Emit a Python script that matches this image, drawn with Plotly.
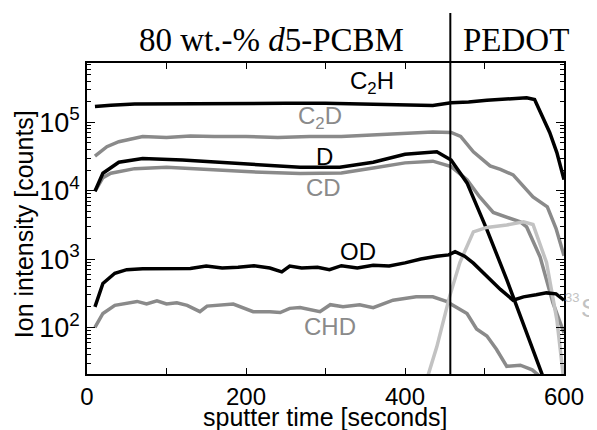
import plotly.graph_objects as go

# ---------------- data ----------------
t_c2h = [10, 30, 60, 100, 150, 200, 250, 300, 350, 400, 435, 458, 480, 503, 530, 553, 563, 572, 582, 591, 600]
v_c2h = [1.7e5, 1.78e5, 1.85e5, 1.87e5, 1.88e5, 1.89e5, 1.9e5, 1.9e5, 1.85e5, 1.8e5, 1.76e5, 1.93e5,
         1.98e5, 2.1e5, 2.18e5, 2.28e5, 2.15e5, 1.3e5, 7.1e4, 3.6e4, 1.45e4]

t_c2d = [10, 25, 40, 70, 100, 130, 160, 200, 240, 280, 320, 360, 400, 435, 458, 470, 486, 507, 520, 536, 561, 579, 590, 600]
v_c2d = [3.2e4, 4.4e4, 5.2e4, 6.2e4, 6.0e4, 6.3e4, 6.2e4, 6.2e4, 6.0e4, 6.2e4, 6.2e4, 6.5e4, 6.8e4, 7.2e4,
         7.1e4, 6.2e4, 3.7e4, 2.3e4, 2.05e4, 1.7e4, 8.1e3, 5.8e3, 2.8e3, 1.12e3]

t_d = [10, 20, 40, 70, 120, 200, 268, 318, 360, 400, 440, 458, 478, 503, 528, 553, 572, 580]
v_d = [9.8e3, 1.8e4, 2.6e4, 2.95e4, 2.8e4, 2.45e4, 2.2e4, 2.2e4, 2.6e4, 3.4e4, 3.7e4, 2.8e4, 1.3e4,
       2.7e3, 500, 83, 21, 12]

t_cd = [10, 20, 30, 60, 100, 150, 200, 268, 320, 360, 400, 435, 458, 478, 494, 511, 528, 545, 553, 570, 586, 600]
v_cd = [9.8e3, 1.55e4, 1.8e4, 2.1e4, 2.2e4, 2.05e4, 1.9e4, 1.78e4, 1.82e4, 2.15e4, 2.55e4, 2.7e4, 2.25e4,
        1.45e4, 8.1e3, 4.8e3, 4.1e3, 3.5e3, 2.95e3, 1.07e3, 230, 83]

t_od = [10, 20, 35, 50, 70, 90, 110, 130, 150, 170, 190, 210, 230, 245, 255, 270, 290, 305, 320, 340, 360,
        380, 400, 420, 440, 455, 463, 475, 486, 503, 520, 536, 549, 565, 578, 590, 600]
v_od = [200, 440, 620, 700, 720, 730, 720, 730, 790, 740, 760, 800, 740, 650, 790, 740, 760, 700, 800, 740,
        810, 790, 880, 1000, 1100, 1150, 1280, 1100, 870, 560, 360, 250, 280, 300, 320, 310, 250]

t_chd = [10, 20, 35, 50, 63, 75, 88, 100, 113, 126, 142, 151, 184, 209, 230, 243, 255, 268, 293, 306, 322,
         343, 360, 385, 414, 435, 452, 478, 490, 503, 515, 528, 545, 560, 575]
v_chd = [100, 160, 210, 225, 240, 220, 245, 220, 230, 210, 170, 205, 220, 170, 170, 165, 190, 195, 170, 215,
         200, 215, 195, 250, 280, 280, 240, 160, 95, 75, 48, 27, 28, 24, 17]

t_s33 = [425, 429, 440, 456, 469, 486, 503, 528, 549, 561, 578, 591, 599, 603]
v_s33 = [12, 20, 52, 280, 890, 2500, 2900, 3150, 3500, 3200, 890, 130, 20, 12]

x_ticks = [0, 100, 200, 300, 400, 500, 600]
x_ticktext = ["0", "", "200", "", "400", "", "600"]
y_ticks = [1e2, 1e3, 1e4, 1e5]
y_ticktext = ["10<sup>2</sup>", "10<sup>3</sup>", "10<sup>4</sup>", "10<sup>5</sup>"]
interface_time = 457

BLACK = "#000000"
GRAY = "#8a8a8a"
LIGHT = "#c2c2c2"

fig = go.Figure()
series = [
    (t_c2h, v_c2h, BLACK),
    (t_c2d, v_c2d, GRAY),
    (t_cd, v_cd, GRAY),
    (t_d, v_d, BLACK),
    (t_chd, v_chd, GRAY),
    (t_s33, v_s33, LIGHT),
    (t_od, v_od, BLACK),
]
for t, v, c in series:
    fig.add_trace(go.Scatter(x=t, y=v, mode="lines", line=dict(color=c, width=3.5),
                             showlegend=False, hoverinfo="skip"))

minor_y = [m * 10 ** e for e in range(1, 6) for m in range(2, 10)]
sans = "Liberation Sans, Arial"
serif = "Liberation Serif, Times New Roman"

fig.update_xaxes(range=[0, 600], tickvals=x_ticks, ticktext=x_ticktext, ticks="inside", ticklen=6,
                 tickwidth=1, tickcolor="black", showline=True, linecolor="black", linewidth=1.5,
                 mirror="ticks", showgrid=False, zeroline=False,
                 tickfont=dict(family=sans, size=24, color="black"))
fig.update_yaxes(type="log", range=[1.319, 5.867], tickvals=y_ticks, ticktext=y_ticktext,
                 ticks="inside", ticklen=8, tickwidth=1, tickcolor="black",
                 minor=dict(tickvals=minor_y, ticks="inside", ticklen=4, tickcolor="black", tickwidth=1,
                            showgrid=False),
                 showline=True, linecolor="black", linewidth=1.5, mirror="ticks", showgrid=False,
                 zeroline=False, ticklabelstandoff=0,
                 tickfont=dict(family=sans, size=27, color="black"))

fig.add_shape(type="line", xref="x", yref="paper", x0=interface_time, x1=interface_time, y0=0, y1=1.161,
              line=dict(color="black", width=2))

labels = [
    ("C<sub>2</sub>H", 358, 5.58, BLACK),
    ("C<sub>2</sub>D", 293, 5.07, GRAY),
    ("D", 299, 4.50, BLACK),
    ("CD", 298, 4.04, GRAY),
    ("OD", 341, 3.11, BLACK),
    ("CHD", 306, 2.01, GRAY),
]
for txt, x, y, c in labels:
    fig.add_annotation(text=txt, x=x, y=y, xref="x", yref="y", showarrow=False,
                       xanchor="center", yanchor="middle",
                       font=dict(family=sans, size=24, color=c))
# 33S label (superscript mass number drawn smaller)
fig.add_annotation(text="33", x=1.0, y=2.44, xref="paper", yref="y", xanchor="left",
                   yanchor="middle", showarrow=False, borderpad=0,
                   font=dict(family=sans, size=13, color=LIGHT))
fig.add_annotation(text="S", x=1.033, y=2.29, xref="paper", yref="y", xanchor="left",
                   yanchor="middle", showarrow=False, borderpad=0,
                   font=dict(family=sans, size=25, color=LIGHT))

fig.add_annotation(text="80 wt.-% <i>d</i>5-PCBM", x=0.386, y=1.074, xref="paper", yref="paper",
                   xanchor="center", yanchor="middle",
                   showarrow=False, font=dict(family=serif, size=33, color="black"))
fig.add_annotation(text="PEDOT", x=0.899, y=1.074, xref="paper", yref="paper",
                   xanchor="center", yanchor="middle",
                   showarrow=False, font=dict(family=serif, size=33, color="black"))

fig.add_annotation(text="Ion intensity [counts]", x=-0.132, y=0.482, xref="paper", yref="paper",
                   xanchor="center", yanchor="middle",
                   textangle=-90, showarrow=False, font=dict(family=sans, size=25, color="black"))
fig.add_annotation(text="sputter time [seconds]", x=0.501, y=-0.138, xref="paper", yref="paper",
                   xanchor="center", yanchor="middle",
                   showarrow=False, font=dict(family=sans, size=25, color="black"))

# page has an 8px body margin, so the figure is 8px smaller and margins shifted
fig.update_layout(width=589, height=422, margin=dict(l=79, r=33, t=55, b=56),
                  plot_bgcolor="white", paper_bgcolor="white")

fig.write_html("out.html")
